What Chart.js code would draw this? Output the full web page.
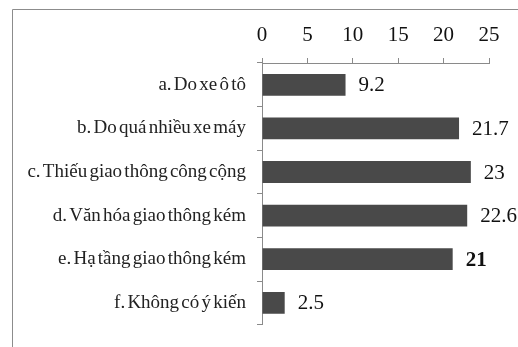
<!DOCTYPE html>
<html>
<head>
<meta charset="utf-8">
<script src="https://cdn.jsdelivr.net/npm/chart.js@4/dist/chart.umd.min.js"></script>
<style>
  html, body { margin: 0; padding: 0; background: #fff; }
  #wrap { position: relative; width: 518px; height: 347px; }
</style>
</head>
<body>
<div id="wrap"><canvas id="c" width="518" height="347"></canvas></div>
<script>
// Nguyên nhân gây ùn tắc giao thông (%)
const categories = [
  'a. Do xe ô tô',
  'b. Do quá nhiều xe máy',
  'c. Thiếu giao thông công cộng',
  'd. Văn hóa giao thông kém',
  'e. Hạ tầng giao thông kém',
  'f. Không có ý kiến'
];
const values = [9.2, 21.7, 23, 22.6, 21, 2.5];
const axisTicks = [0, 5, 10, 15, 20, 25];

const SERIF = '"Liberation Serif", "Times New Roman", serif';
const BOLD_LABEL_INDEX = 4;

// Outer frame around the chart; also tightens word spacing for the labels
const framePlugin = {
  id: 'frame',
  beforeDraw(chart) {
    const ctx = chart.ctx;
    ctx.save();
    ctx.fillStyle = '#fff';
    ctx.fillRect(0, 0, chart.width, chart.height);
    ctx.strokeStyle = '#8c8c8c';
    ctx.lineWidth = 1;
    ctx.beginPath();
    ctx.moveTo(12.5, chart.height);
    ctx.lineTo(12.5, 9.5);
    ctx.lineTo(chart.width, 9.5);
    ctx.stroke();
    ctx.restore();
    if ('wordSpacing' in ctx) ctx.wordSpacing = '-2.5px';
  }
};

// Value labels to the right of each bar
const valueLabels = {
  id: 'valueLabels',
  afterDatasetsDraw(chart) {
    const ctx = chart.ctx;
    const meta = chart.getDatasetMeta(0);
    ctx.save();
    ctx.fillStyle = '#111';
    ctx.textBaseline = 'middle';
    ctx.textAlign = 'left';
    meta.data.forEach((bar, i) => {
      ctx.font = (i === BOLD_LABEL_INDEX ? 'bold ' : '') + '21px ' + SERIF;
      ctx.fillText(String(values[i]), bar.x + 13, bar.y + 1);
    });
    ctx.restore();
  }
};

new Chart(document.getElementById('c'), {
  type: 'bar',
  data: {
    labels: categories,
    datasets: [{
      data: values,
      backgroundColor: '#494949',
      borderWidth: 0,
      barPercentage: 0.5,
      categoryPercentage: 1.0
    }]
  },
  options: {
    indexAxis: 'y',
    responsive: false,
    animation: false,
    layout: { padding: { left: 0, right: 29, top: 0, bottom: 8 } },
    plugins: { legend: { display: false }, tooltip: { enabled: false } },
    scales: {
      x: {
        position: 'top',
        min: 0,
        max: 25,
        afterBuildTicks(scale) { scale.ticks = axisTicks.map(v => ({ value: v })); },
        afterFit(scale) { scale.height = 63; },
        grid: { drawOnChartArea: false, tickLength: 5, color: '#8a8a8a' },
        border: { color: '#8a8a8a' },
        ticks: {
          color: '#111',
          padding: 10,
          maxRotation: 0,
          font: { family: SERIF, size: 21 }
        }
      },
      y: {
        afterFit(scale) { scale.width = 262; },
        grid: { drawOnChartArea: false, offset: true, tickLength: 5, color: '#8a8a8a' },
        border: { color: '#8a8a8a' },
        ticks: {
          color: '#222',
          padding: 11,
          font: { family: SERIF, size: 19 }
        }
      }
    }
  },
  plugins: [framePlugin, valueLabels]
});
</script>
</body>
</html>
